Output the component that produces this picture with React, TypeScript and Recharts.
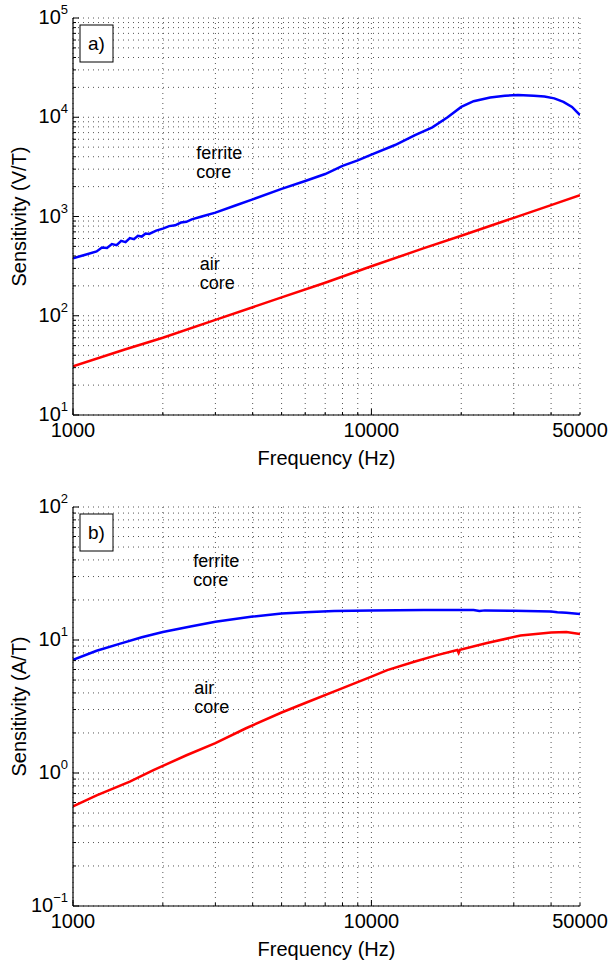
import React from 'react'
import { LineChart, Line, XAxis, YAxis, CartesianGrid, ReferenceDot } from 'recharts'

const FONT = '"Liberation Sans", Arial, Helvetica, sans-serif'

// a) voltage sensitivity, ferrite core (V/T)
const freqFerriteA = [
  1000, 1100, 1200, 1250, 1300, 1350, 1400, 1450, 1500, 1550, 1600, 1650, 1700, 1750, 1800, 1900,
  2000, 2100, 2200, 2300, 2400, 2500, 2700, 3000, 3500, 4000, 5000, 6000, 7000, 8000, 9000, 10000,
  12000, 14000, 16000, 18000, 20000, 22000, 25000, 28000, 31000, 35000, 38000, 41000, 44000, 47000, 50000,
]
const sensFerriteA = [
  380, 412, 445, 488, 482, 528, 515, 568, 552, 605, 590, 640, 628, 675, 668, 720,
  755, 800, 815, 870, 885, 935, 1000, 1095, 1290, 1490, 1900, 2280, 2680, 3240, 3680, 4200,
  5250, 6600, 7900, 10000, 12700, 14500, 15800, 16500, 16750, 16500, 16200, 15500, 14300, 12700, 10500,
]
// a) air core (V/T)
const freqAirA = [1000, 1500, 2000, 3000, 5000, 7000, 10000, 15000, 20000, 30000, 40000, 50000]
const sensAirA = [31, 46, 60, 91, 153, 215, 315, 480, 640, 970, 1300, 1640]

// b) current sensitivity, ferrite core (A/T)
const freqFerriteB = [
  1000, 1200, 1440, 1700, 2000, 2500, 3000, 4000, 5000, 6000, 7500, 10000, 15000, 22000, 23000,
  24000, 30000, 40000, 42000, 45000, 50000,
]
const sensFerriteB = [
  7.1, 8.3, 9.4, 10.5, 11.5, 12.7, 13.7, 15.0, 15.8, 16.2, 16.5, 16.7, 16.8, 16.8, 16.55,
  16.7, 16.6, 16.4, 16.2, 16.0, 15.7,
]
// b) air core (A/T)
const freqAirB = [
  1000, 1200, 1550, 1860, 2400, 3000, 3800, 5000, 6000, 7700, 10000, 11300, 14000, 16600, 19400,
  19600, 19800, 24400, 31600, 40000, 45000, 50000,
]
const sensAirB = [
  0.56, 0.68, 0.86, 1.05, 1.36, 1.68, 2.17, 2.85, 3.36, 4.2, 5.3, 5.94, 6.9, 7.7, 8.4,
  8.0, 8.45, 9.5, 10.8, 11.4, 11.5, 11.1,
]

const xTicks = [1000, 2000, 3000, 4000, 5000, 6000, 7000, 8000, 9000, 10000, 20000, 30000, 40000, 50000]
const xLabels = [1000, 10000, 50000]
const mantissas = [1, 2, 3, 4, 5, 6, 7, 8, 9]
const logTicks = (lo: number, hi: number) => {
  const out: number[] = []
  for (let e = lo; e < hi; e++) mantissas.forEach((m) => out.push(m * Math.pow(10, e)))
  out.push(Math.pow(10, hi))
  return out
}
const yTicksA = logTicks(1, 5)
const yTicksB = logTicks(-1, 2)

const toRows = (f: number[], s: number[]) => f.map((x, i) => ({ f: x, s: s[i] }))

const isDecade = (v: number) => {
  const l = Math.log10(v)
  return Math.abs(l - Math.round(l)) < 1e-6
}

function LeftTick({ x, y, payload }: any) {
  const v = payload.value
  const major = isDecade(v)
  const exp = Math.round(Math.log10(v))
  return (
    <g>
      <line x1={x} y1={y} x2={x + (major ? 6 : 3)} y2={y} stroke="#000" />
      {major && (
        <text x={x - 5} y={y + 6} textAnchor="end" fontSize={20} fontFamily={FONT} fill="#000">
          10
          <tspan dy={-10} fontSize={13}>
            {exp < 0 ? '\u2212' + Math.abs(exp) : exp}
          </tspan>
        </text>
      )}
    </g>
  )
}

function RightTick({ x, y, payload }: any) {
  const major = isDecade(payload.value)
  return <line x1={x} y1={y} x2={x - (major ? 6 : 3)} y2={y} stroke="#000" />
}

function BottomTick({ x, y, payload }: any) {
  const v = payload.value
  const show = xLabels.includes(v)
  return (
    <g>
      <line x1={x} y1={y} x2={x} y2={y - (isDecade(v) ? 6 : 3)} stroke="#000" />
      {show && (
        <text x={x} y={y + 22} textAnchor="middle" fontSize={20} fontFamily={FONT} fill="#000">
          {v}
        </text>
      )}
    </g>
  )
}

function TopTick({ x, y, payload }: any) {
  return <line x1={x} y1={y} x2={x} y2={y + (isDecade(payload.value) ? 6 : 3)} stroke="#000" />
}

const note = (lines: string[]) => (props: any) => {
  const { x, y } = props.viewBox
  return (
    <text x={x} y={y} fontSize={18} fontFamily={FONT} fill="#000">
      {lines.map((l, i) => (
        <tspan key={i} x={x} dy={i === 0 ? 0 : 19}>
          {l}
        </tspan>
      ))}
    </text>
  )
}

const panelTag = (tag: string) => (props: any) => {
  const { x, y } = props.viewBox
  return (
    <g>
      <rect x={x + 7} y={y + 7} width={33} height={37} fill="#fff" stroke="#000" />
      <text x={x + 23.5} y={y + 32} textAnchor="middle" fontSize={19} fontFamily={FONT} fill="#000">
        {tag}
      </text>
    </g>
  )
}

const yTitle = (text: string) => (props: any) => {
  const { x, y, height } = props.viewBox
  return (
    <text
      transform={`translate(${x + 13},${y + height / 2}) rotate(-90)`}
      textAnchor="middle"
      fontSize={20}
      fontFamily={FONT}
      fill="#000"
    >
      {text}
    </text>
  )
}

const xTitle = (props: any) => {
  const { x, y, width } = props.viewBox
  return (
    <text x={x + width / 2} y={y + 50} textAnchor="middle" fontSize={20} fontFamily={FONT} fill="#000">
      Frequency (Hz)
    </text>
  )
}

interface PanelProps {
  height: number
  top: number
  bottom: number
  yDomain: [number, number]
  yTicks: number[]
  yLabel: string
  tag: string
  ferrite: { f: number; s: number }[]
  air: { f: number; s: number }[]
  ferriteAt: [number, number]
  airAt: [number, number]
}

function Panel(p: PanelProps) {
  return (
    <LineChart width={608} height={p.height} margin={{ top: p.top, right: 28, bottom: p.bottom, left: 13 }}>
      <CartesianGrid stroke="#555" strokeDasharray="1 4" />
      <XAxis
        dataKey="f"
        type="number"
        scale="log"
        domain={[1000, 50000]}
        allowDataOverflow
        ticks={xTicks}
        interval={0}
        height={30}
        tickSize={0}
        tickMargin={0}
        tick={<BottomTick />}
        axisLine={{ stroke: '#000', strokeWidth: 1.2 }}
        label={{ content: xTitle }}
      />
      <XAxis
        xAxisId="top"
        orientation="top"
        type="number"
        scale="log"
        domain={[1000, 50000]}
        allowDataOverflow
        ticks={xTicks}
        interval={0}
        height={0}
        tickSize={0}
        tickMargin={0}
        tick={<TopTick />}
        axisLine={{ stroke: '#000', strokeWidth: 1.2 }}
      />
      <YAxis
        type="number"
        scale="log"
        domain={p.yDomain}
        allowDataOverflow
        ticks={p.yTicks}
        interval={0}
        width={60}
        tickSize={0}
        tickMargin={0}
        tick={<LeftTick />}
        axisLine={{ stroke: '#000', strokeWidth: 1.2 }}
        label={{ content: yTitle(p.yLabel) }}
      />
      <YAxis
        yAxisId="right"
        orientation="right"
        type="number"
        scale="log"
        domain={p.yDomain}
        allowDataOverflow
        ticks={p.yTicks}
        interval={0}
        width={0}
        tickSize={0}
        tickMargin={0}
        tick={<RightTick />}
        axisLine={{ stroke: '#000', strokeWidth: 1.2 }}
      />
      <Line data={p.ferrite} dataKey="s" stroke="#0000ff" strokeWidth={2.5} dot={false} isAnimationActive={false} />
      <Line data={p.air} dataKey="s" stroke="#ff0000" strokeWidth={2.5} dot={false} isAnimationActive={false} />
      <ReferenceDot x={1000} y={p.yDomain[1]} r={0} label={{ content: panelTag(p.tag) }} />
      <ReferenceDot x={p.ferriteAt[0]} y={p.ferriteAt[1]} r={0} label={{ content: note(['ferrite', 'core']) }} />
      <ReferenceDot x={p.airAt[0]} y={p.airAt[1]} r={0} label={{ content: note(['air', 'core']) }} />
    </LineChart>
  )
}

export default function App() {
  return (
    <div style={{ position: 'absolute', left: 0, top: 0, width: 608, height: 960, background: '#fff' }}>
      <Panel
        height={475}
        top={18}
        bottom={30}
        yDomain={[10, 100000]}
        yTicks={yTicksA}
        yLabel="Sensitivity (V/T)"
        tag="a)"
        ferrite={toRows(freqFerriteA, sensFerriteA)}
        air={toRows(freqAirA, sensAirA)}
        ferriteAt={[2590, 3800]}
        airAt={[2660, 290]}
      />
      <Panel
        height={485}
        top={32}
        bottom={24}
        yDomain={[0.1, 100]}
        yTicks={yTicksB}
        yLabel="Sensitivity (A/T)"
        tag="b)"
        ferrite={toRows(freqFerriteB, sensFerriteB)}
        air={toRows(freqAirB, sensAirB)}
        ferriteAt={[2530, 35.4]}
        airAt={[2550, 3.93]}
      />
    </div>
  )
}
